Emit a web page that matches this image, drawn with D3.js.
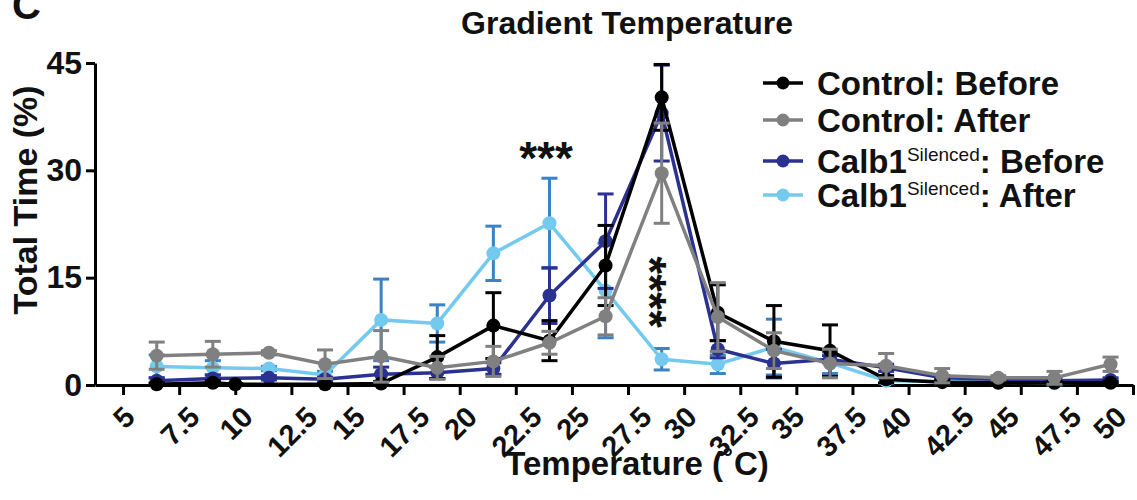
<!DOCTYPE html>
<html>
<head>
<meta charset="utf-8">
<script src="https://cdn.jsdelivr.net/npm/d3@7"></script>
<style>
  body { margin: 0; background: #fff; }
  text { font-family: "Liberation Sans", Arial, Helvetica, sans-serif; font-weight: bold; fill: #111; }
</style>
</head>
<body>
<svg id="chart" width="1137" height="500"></svg>
<script>
// temperatures of the bins (the black series has one shifted bin)
var temps = [6.5, 9, 11.5, 14, 16.5, 19, 21.5, 24, 26.5, 29, 31.5, 34, 36.5, 39, 41.5, 44, 46.5, 49];
var tempsControlBefore = [6.5, 9, 10, 14, 16.5, 19, 21.5, 24, 26.5, 29, 31.5, 34, 36.5, 39, 41.5, 44, 46.5, 49];

var controlBefore    = [0.1, 0.3, 0.1, 0.1, 0.2, 3.9, 8.3, 6.2, 16.7, 40.2, 10.1, 6.1, 4.8, 0.8, 0.4, 0.3, 0.3, 0.3];
var controlBeforeErr = [0.2, 0.3, 0.1, 0.1, 0.3, 3.0, 4.6, 2.8, 5.6, 4.6, 3.9, 5.0, 3.6, 0.5, 0.3, 0.2, 0.2, 0.2];

var controlAfter    = [4.1, 4.3, 4.5, 2.9, 4.0, 2.4, 3.3, 5.9, 9.6, 29.6, 9.5, 4.8, 3.0, 2.7, 1.3, 1.0, 1.0, 2.9];
var controlAfterErr = [1.9, 1.8, 0.3, 2.0, 3.6, 1.6, 2.1, 1.6, 2.6, 7.0, 4.8, 2.5, 2.0, 1.7, 1.0, 0.3, 0.9, 1.0];

var calbBefore    = [0.6, 0.9, 1.0, 0.8, 1.5, 1.7, 2.3, 12.5, 20.1, 38.0, 5.0, 3.0, 3.6, 2.4, 1.0, 0.8, 0.6, 0.7];
var calbBeforeErr = [0.4, 0.5, 0.3, 0.3, 1.0, 0.8, 0.8, 3.9, 6.6, 6.7, 1.2, 2.0, 0.5, 0.5, 0.3, 0.2, 0.3, 0.3];

var calbAfter    = [2.6, 2.4, 2.3, 1.4, 9.1, 8.6, 18.4, 22.6, 13.2, 3.6, 2.9, 5.3, 3.1, 0.6, 0.5, 0.4, 0.3, 0.5];
var calbAfterErr = [1.6, 1.0, 0.3, 0.5, 5.7, 2.6, 3.8, 6.3, 6.6, 1.5, 1.3, 3.9, 1.5, 0.4, 0.4, 0.2, 0.3, 0.3];

var xTicks = d3.range(5, 50.01, 2.5);
var yTicks = [0, 15, 30, 45];

var seriesNames = ["Control: Before", "Control: After", "Calb1|Silenced|: Before", "Calb1|Silenced|: After"];

function makeSeries(xs, ys, es) {
    return xs.map(function(t, i) { return {t: t, v: ys[i], e: es[i]}; });
}

// drawing order: light blue at the bottom, gray on top
var series = [
    {name: seriesNames[3], color: "#74c9ef", errColor: "#3a82c4", data: makeSeries(temps, calbAfter, calbAfterErr)},
    {name: seriesNames[2], color: "#2b3190", errColor: "#2b3190", data: makeSeries(temps, calbBefore, calbBeforeErr)},
    {name: seriesNames[0], color: "#000000", errColor: "#000000", data: makeSeries(tempsControlBefore, controlBefore, controlBeforeErr)},
    {name: seriesNames[1], color: "#808080", errColor: "#808080", data: makeSeries(temps, controlAfter, controlAfterErr)}
];

var svg = d3.select("#chart");

var x = d3.scaleLinear().domain([3.75, 50]).range([95, 1133]);
var y = d3.scaleLinear().domain([0, 45]).range([385, 63]);

// axes
var tickFont = 29;
var xAxis = svg.append("g")
    .attr("transform", "translate(0," + y(0) + ")")
    .call(d3.axisBottom(x).tickValues(xTicks).tickSize(10).tickSizeOuter(0)
        .tickFormat(function(d) { return d % 1 ? d.toFixed(1) : d; }));
xAxis.select(".domain").attr("stroke", "#000").attr("stroke-width", 3);
xAxis.selectAll(".tick line").attr("stroke", "#000").attr("stroke-width", 3);
xAxis.selectAll(".tick text")
    .style("font-size", tickFont + "px")
    .attr("fill", "#111")
    .attr("x", 0).attr("y", 0).attr("dy", "0.36em")
    .attr("text-anchor", "middle")
    .each(function(d) {
        // rotated label hangs below the tick, its box top about 19px under the axis;
        // in the original the right-hand labels sit a little left of their ticks
        var w = this.getComputedTextLength();
        var half = (w + 0.72 * tickFont) * 0.3536;
        var nudge = -Math.max(0, d - 25) / 25 * 24;
        d3.select(this).attr("transform", "translate(" + nudge + "," + (19 + half) + ") rotate(-45)");
    });

var yAxis = svg.append("g")
    .attr("transform", "translate(" + x(3.75) + ",0)")
    .call(d3.axisLeft(y).tickValues(yTicks).tickSize(9).tickPadding(4).tickSizeOuter(0));
yAxis.select(".domain").attr("stroke", "#000").attr("stroke-width", 3);
yAxis.selectAll(".tick line").attr("stroke", "#000").attr("stroke-width", 3);
yAxis.selectAll(".tick text").style("font-size", "32px").attr("fill", "#111");

// series
var line = d3.line().x(function(d) { return x(d.t); }).y(function(d) { return y(d.v); });

series.forEach(function(s) {
    var g = svg.append("g");

    var bars = g.selectAll(".err").data(s.data).join("g").attr("class", "err")
        .attr("stroke", s.errColor).attr("stroke-width", 3);
    bars.append("line")
        .attr("x1", function(d) { return x(d.t); }).attr("x2", function(d) { return x(d.t); })
        .attr("y1", function(d) { return y(Math.max(0, d.v - d.e)); })
        .attr("y2", function(d) { return y(Math.min(45, d.v + d.e)); });
    bars.append("line")
        .attr("x1", function(d) { return x(d.t) - 8; }).attr("x2", function(d) { return x(d.t) + 8; })
        .attr("y1", function(d) { return y(Math.min(45, d.v + d.e)); })
        .attr("y2", function(d) { return y(Math.min(45, d.v + d.e)); });
    bars.append("line")
        .attr("x1", function(d) { return x(d.t) - 8; }).attr("x2", function(d) { return x(d.t) + 8; })
        .attr("y1", function(d) { return y(Math.max(0, d.v - d.e)); })
        .attr("y2", function(d) { return y(Math.max(0, d.v - d.e)); });

    g.append("path").datum(s.data)
        .attr("d", line)
        .attr("fill", "none")
        .attr("stroke", s.color)
        .attr("stroke-width", 3.5);

    g.selectAll("circle").data(s.data).join("circle")
        .attr("cx", function(d) { return x(d.t); })
        .attr("cy", function(d) { return y(d.v); })
        .attr("r", 7)
        .attr("fill", s.color);
});

// significance stars
svg.append("text").attr("x", 546).attr("y", 174).attr("text-anchor", "middle")
    .style("font-size", "46px").text("***");
svg.append("text").attr("transform", "translate(634,292) rotate(90)").attr("text-anchor", "middle")
    .style("font-size", "46px").text("****");

// titles
svg.append("text").attr("x", 627).attr("y", 34).attr("text-anchor", "middle")
    .style("font-size", "32px").text("Gradient Temperature");
svg.append("text").attr("x", 637).attr("y", 475).attr("text-anchor", "middle")
    .style("font-size", "33px").text("Temperature (\u02DAC)");
svg.append("text").attr("transform", "translate(37,200) rotate(-90)").attr("text-anchor", "middle")
    .style("font-size", "34px").text("Total Time (%)");
svg.append("text").attr("x", 12).attr("y", 19).style("font-size", "40px").text("C");

// legend
var legendOrder = [series[2], series[3], series[1], series[0]];
var legendY = [83, 120, 161, 195];
var legend = svg.selectAll(".legend").data(legendOrder).join("g").attr("class", "legend")
    .attr("transform", function(d, i) { return "translate(763," + legendY[i] + ")"; });
legend.append("line").attr("x1", 0).attr("x2", 40).attr("y1", 0).attr("y2", 0)
    .attr("stroke", function(d) { return d.color; }).attr("stroke-width", 3.5);
legend.append("circle").attr("cx", 20).attr("cy", 0).attr("r", 6.5)
    .attr("fill", function(d) { return d.color; });
legend.append("text").attr("x", 54).attr("y", 12).style("font-size", "33px")
    .each(function(d) {
        var parts = d.name.split("|");
        var t = d3.select(this);
        t.append("tspan").text(parts[0]);
        if (parts.length > 1) {
            t.append("tspan").attr("dy", -12).style("font-size", "19px").style("font-weight", "normal").text(parts[1]);
            t.append("tspan").attr("dy", 12).text(parts[2]);
        }
    });
</script>
</body>
</html>
